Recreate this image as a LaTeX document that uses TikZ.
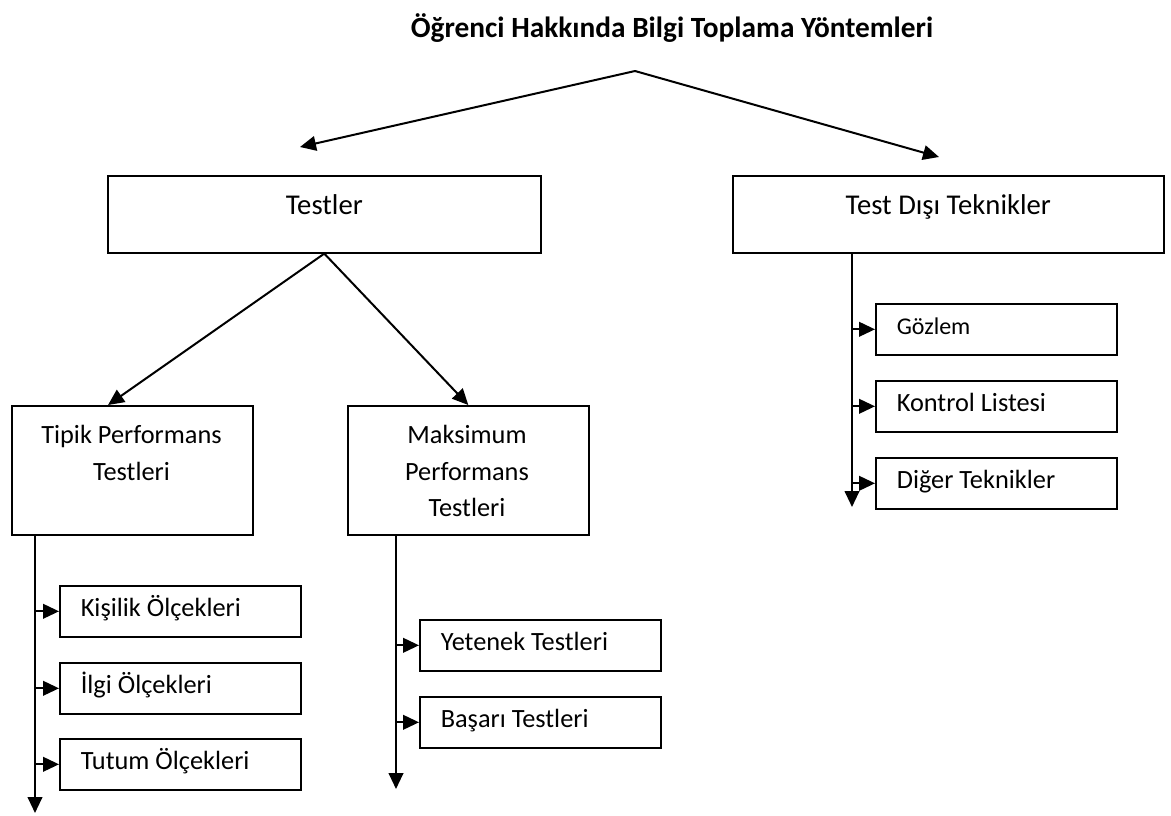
\documentclass[tikz,border=0pt]{standalone}
\usepackage{fontspec}
\setmainfont{Carlito}
\usetikzlibrary{arrows.meta,calc}

\newcommand{\subtext}[1]{\makebox[149.25pt][l]{#1}}

\begin{document}
\begin{tikzpicture}[x=0.75pt,y=-0.75pt,>={Triangle[length=12pt,width=11pt]},
  line/.style={line width=1.5pt},
  mainbox/.style={draw,line width=1.2pt,anchor=north west,minimum height=57.75pt,text height=0.7em,text depth=0.6em,font=\fontsize{21.5}{26}\selectfont},
  perfbox/.style={draw,line width=1.2pt,anchor=north west,minimum width=180.75pt,minimum height=96.75pt},
  perftext/.style={anchor=north,inner sep=0pt,align=center,font=\fontsize{19.75}{27.5}\selectfont},
  subbox/.style={draw,line width=1.2pt,anchor=north west,minimum height=38.25pt,inner xsep=15.75pt,text height=0.8em,text depth=0em,font=\fontsize{19.75}{24}\selectfont}]
\useasboundingbox (0,0) rectangle (1171,815);
% title and first split
\node[font=\bfseries\fontsize{22}{26}\selectfont,anchor=base] (title) at (672,37) {Öğrenci Hakkında Bilgi Toplama Yöntemleri};
\coordinate (apex) at (635,71);
\coordinate (lt) at (300,147);
\coordinate (rt) at (939,157);
\draw[line,->] (apex) -- (lt);
\draw[line,->] (apex) -- (rt);
\node[mainbox,minimum width=324.75pt] (testler) at (107,175) {Testler};
\node[mainbox,minimum width=323.25pt] (tdt) at (732,175) {Test Dışı Teknikler};
% tests
\node[perfbox] (tipik) at (11,405) {};
\node[perftext] (tipik-txt) at (131.5,425) {Tipik Performans\\Testleri};
\node[perfbox] (maks) at (347,405) {};
\node[perftext] (maks-txt) at (467,425) {Maksimum\\Performans\\Testleri};
\draw[line,->] (testler.south) -- ($(tipik.north west)!0.4!(tipik.north east)$);
\draw[line,->] (testler.south) -- (maks.north);
\node[subbox] (kisilik) at (59,585) {\subtext{Kişilik Ölçekleri}};
\node[subbox] (ilgi) at (59,662) {\subtext{İlgi Ölçekleri}};
\node[subbox] (tutum) at (59,738) {\subtext{Tutum Ölçekleri}};
\node[subbox] (yetenek) at (419,619) {\subtext{Yetenek Testleri}};
\node[subbox] (basari) at (419,696) {\subtext{Başarı Testleri}};
% non-test techniques
\node[subbox,font=\fontsize{18}{22}\selectfont] (gozlem) at (875,303) {\subtext{Gözlem}};
\node[subbox] (kontrol) at (875,380) {\subtext{Kontrol Listesi}};
\node[subbox] (diger) at (875,457) {\subtext{Diğer Teknikler}};
% vertical buses
\coordinate (tipik-end) at (35,813);
\coordinate (maks-end) at (396,789);
\coordinate (tdt-end) at (852,507);
\draw[line,->] (tipik.south -| tipik-end) -- (tipik-end);
\draw[line,->] (maks.south -| maks-end) -- (maks-end);
\draw[line,->] (tdt.south -| tdt-end) -- (tdt-end);
\draw[line,->] (kisilik.west -| tipik-end) -- (kisilik.west);
\draw[line,->] (ilgi.west -| tipik-end) -- (ilgi.west);
\draw[line,->] (tutum.west -| tipik-end) -- (tutum.west);
\draw[line,->] (yetenek.west -| maks-end) -- (yetenek.west);
\draw[line,->] (basari.west -| maks-end) -- (basari.west);
\draw[line,->] (gozlem.west -| tdt-end) -- (gozlem.west);
\draw[line,->] (kontrol.west -| tdt-end) -- (kontrol.west);
\draw[line,->] (diger.west -| tdt-end) -- (diger.west);
\end{tikzpicture}
\end{document}
